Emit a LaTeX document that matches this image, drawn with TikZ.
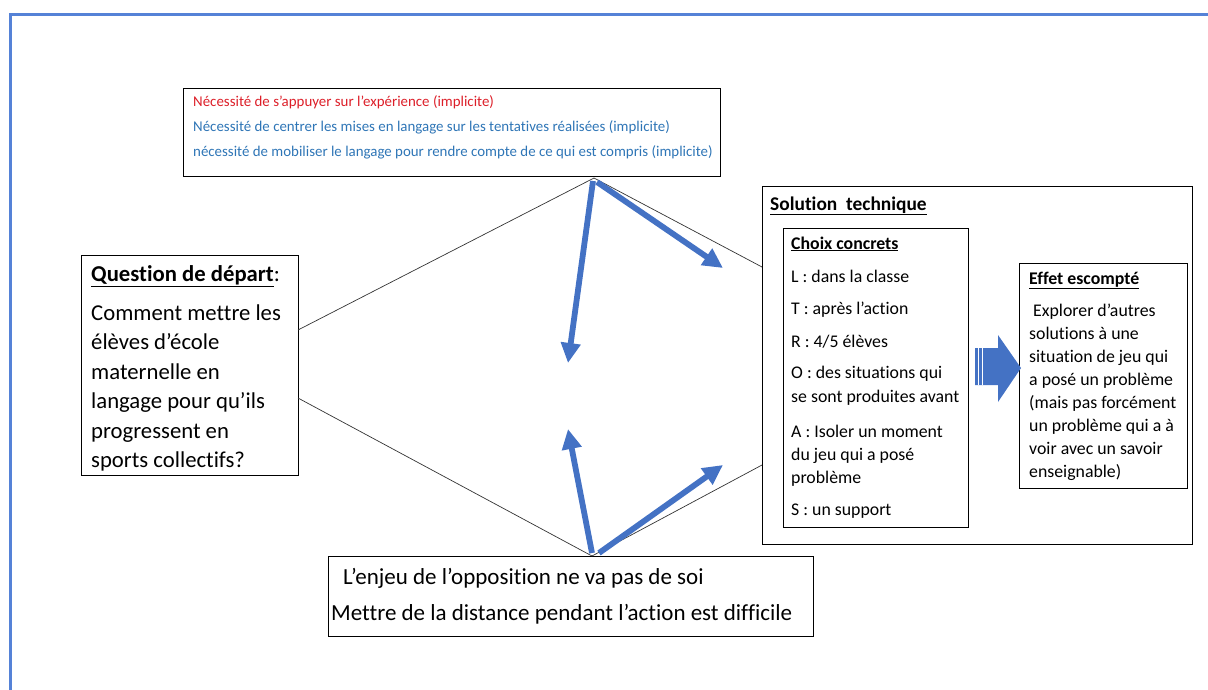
\documentclass[tikz,border=0pt]{standalone}
\usepackage{fontspec}
\setmainfont{Carlito}[Ligatures=NoCommon]
\usetikzlibrary{arrows.meta}
\definecolor{framecol}{RGB}{85,130,215}
\definecolor{arrowcol}{RGB}{68,114,196}
\definecolor{redtxt}{RGB}{220,30,40}
\definecolor{bluetxt}{RGB}{46,117,182}
\begin{document}
\begin{tikzpicture}[x=1pt,y=-1pt,
 box/.style={draw=black,line width=0.9pt,inner sep=0pt,anchor=north west},
 txt/.style={anchor=base west,inner sep=0pt},
 thinline/.style={draw=black!80,line width=0.7pt},
 barrow/.style={draw=arrowcol,line width=5.8pt,-{Triangle[length=20pt,width=19pt]}},
 ftop/.style={font=\fontsize{14.9}{17}\selectfont},
 fq/.style={font=\fontsize{22.7}{26}\selectfont},
 fs/.style={font=\fontsize{17.8}{21}\selectfont},
 fsh/.style={font=\fontsize{19.4}{23}\selectfont},
 fb/.style={font=\fontsize{23}{27}\selectfont},
]
\useasboundingbox (0,0) rectangle (1208,689);
\draw[framecol,line width=3pt] (10,700) -- (10,14) -- (1220,14);

% boxes
\node[box,minimum width=537pt,minimum height=88pt] (top) at (183,88) {};
\node[box,minimum width=217pt,minimum height=220pt] (q) at (81,255) {};
\node[box,minimum width=430pt,minimum height=358pt] (sol) at (762,186) {};
\node[box,minimum width=185pt,minimum height=299pt] (choix) at (783,228) {};
\node[box,minimum width=168pt,minimum height=225pt] (effet) at (1019,263) {};
\node[box,minimum width=485pt,minimum height=80pt] (bot) at (328,556) {};

% top text
\node[txt,ftop,text=redtxt] (t1) at (193,106) {Nécessité de s’appuyer sur l’expérience (implicite)};
\node[txt,ftop,text=bluetxt] (t2) at (193,131) {Nécessité de centrer les mises en langage sur les tentatives réalisées (implicite)};
\node[txt,ftop,text=bluetxt] (t3) at (193,156) {nécessité de mobiliser le langage pour rendre compte de ce qui est compris (implicite)};

% question text
\node[txt,fq] (q0) at (91,281) {\underline{\textbf{Question de départ}}:};
\node[txt,fq] (q1) at (91,320) {Comment mettre les};
\node[txt,fq] (q2) at (91,349.5) {élèves d’école};
\node[txt,fq] (q3) at (91,379) {maternelle en};
\node[txt,fq] (q4) at (91,408.5) {langage pour qu’ils};
\node[txt,fq] (q5) at (91,438) {progressent en};
\node[txt,fq] (q6) at (91,467) {sports collectifs?};

% solution text
\node[txt,fsh] (s0) at (770,210) {\underline{\textbf{Solution\ \ technique}}};
\node[txt,fs] (c0) at (791,249) {\underline{\textbf{Choix concrets}}};
\node[txt,fs] (c1) at (791,282) {L : dans la classe};
\node[txt,fs] (c2) at (791,314) {T : après l’action};
\node[txt,fs] (c3) at (791,347) {R : 4/5 élèves};
\node[txt,fs] (c4) at (791,378) {O : des situations qui};
\node[txt,fs] (c5) at (791,402) {se sont produites avant};
\node[txt,fs] (c6) at (791,437) {A : Isoler un moment};
\node[txt,fs] (c7) at (791,460) {du jeu qui a posé};
\node[txt,fs] (c8) at (791,483) {problème};
\node[txt,fs] (c9) at (791,515) {S : un support};

\node[txt,fs] (e0) at (1029,284) {\underline{\textbf{Effet escompté}}};
\node[txt,fs] (e1) at (1033,316) {Explorer d’autres};
\node[txt,fs] (e2) at (1029,339) {solutions à une};
\node[txt,fs] (e3) at (1029,362) {situation de jeu qui};
\node[txt,fs] (e4) at (1029,385) {a posé un problème};
\node[txt,fs] (e5) at (1029,408) {(mais pas forcément};
\node[txt,fs] (e6) at (1029,431) {un problème qui a à};
\node[txt,fs] (e7) at (1029,454) {voir avec un savoir};
\node[txt,fs] (e8) at (1029,477) {enseignable)};

% bottom text
\node[txt,fb] (b1) at (343,584) {L’enjeu de l’opposition ne va pas de soi};
\node[txt,fb] (b2) at (331,620) {Mettre de la distance pendant l’action est difficile};

% thin connectors
\coordinate (apexT) at (594,178);
\coordinate (apexB) at (592,556);
\coordinate (qa) at (298,330);
\coordinate (qb) at (298,398);
\coordinate (sa) at (762,267);
\coordinate (sb) at (762,465);
\draw[thinline] (qa) -- (apexT) -- (sa);
\draw[thinline] (qb) -- (apexB) -- (sb);

% blue arrows
\coordinate (a1s) at (593,181);
\coordinate (a1e) at (568,363);
\coordinate (a2s) at (597,182);
\coordinate (a2e) at (723,268);
\coordinate (a3s) at (592,553);
\coordinate (a3e) at (568,429);
\coordinate (a4s) at (599,553);
\coordinate (a4e) at (723,465);
\draw[barrow] (a1s) -- (a1e);
\draw[barrow] (a2s) -- (a2e);
\draw[barrow] (a3s) -- (a3e);
\draw[barrow] (a4s) -- (a4e);

% block arrow
\fill[arrowcol] (975,348) -- (998,348) -- (998,335) -- (1021,368) -- (998,402) -- (998,385) -- (975,385) -- cycle;
\draw[white,line width=0.6pt] (978.5,348) -- (978.5,385);
\draw[white,line width=0.6pt] (982,348) -- (982,385);
\end{tikzpicture}
\end{document}
